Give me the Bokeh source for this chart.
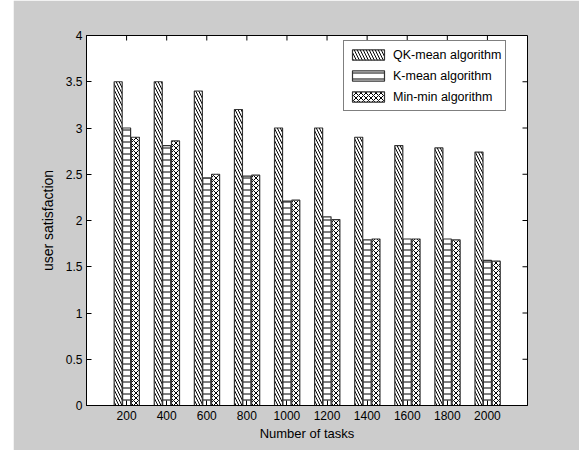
import math
from bokeh.plotting import figure
from bokeh.layouts import row
from bokeh.models import (Range1d, FixedTicker, Legend, LegendItem, Spacer,
                          ColumnDataSource, CustomJSTickFormatter)
from bokeh.transform import dodge
from bokeh.embed import file_html
from bokeh.resources import INLINE

# ---- data ----
tasks = ["200", "400", "600", "800", "1000", "1200", "1400", "1600", "1800", "2000"]
qk_mean = [3.50, 3.50, 3.40, 3.20, 3.00, 3.00, 2.90, 2.81, 2.785, 2.74]
k_mean = [3.00, 2.81, 2.46, 2.48, 2.21, 2.04, 1.79, 1.80, 1.80, 1.57]
min_min = [2.90, 2.86, 2.50, 2.49, 2.22, 2.01, 1.80, 1.80, 1.79, 1.56]
series_names = ["QK-mean algorithm", "K-mean algorithm", "Min-min algorithm"]
y_ticks = [0, 0.5, 1, 1.5, 2, 2.5, 3, 3.5, 4]
x_label = "Number of tasks"
y_label = "user satisfaction"

pos = list(range(1, len(tasks) + 1))
x_max = len(tasks) + 1
y_max = 4
src = ColumnDataSource(data=dict(pos=pos, qk=qk_mean, km=k_mean, mm=min_min))

FONT = "Liberation Sans"
GRAY = "#cccccc"

p = figure(width=566, height=450, output_backend="svg", toolbar_location=None,
           x_range=Range1d(0, x_max), y_range=Range1d(0, y_max),
           min_border_left=73, min_border_right=52, min_border_top=35,
           min_border_bottom=45)
p.border_fill_color = GRAY
p.background_fill_color = "white"
p.outline_line_color = "black"
p.outline_line_width = 1
p.xgrid.visible = False
p.ygrid.visible = False

common = dict(width=0.2, source=src, fill_color="white", line_color="#333333",
              line_width=1.2, hatch_color="black", hatch_weight=1)
r1 = p.vbar(x=dodge("pos", -0.21, range=p.x_range), top="qk",
            hatch_pattern="left_diagonal_line", hatch_scale=6, **common)
r2 = p.vbar(x=dodge("pos", 0.0, range=p.x_range), top="km",
            hatch_pattern="horizontal_line", hatch_scale=6, **common)
r3 = p.vbar(x=dodge("pos", 0.22, range=p.x_range), top="mm",
            hatch_pattern="diagonal_cross", hatch_scale=5, **common)

def style_axis(ax):
    ax.major_tick_in = 5
    ax.major_tick_out = 0
    ax.minor_tick_line_color = None
    ax.axis_line_color = "black"
    ax.major_tick_line_color = "black"
    ax.major_label_text_font = FONT
    ax.major_label_text_color = "black"
    ax.major_label_text_font_size = "12px"

xa = p.xaxis[0]
xa.ticker = FixedTicker(ticks=pos)
xa.major_label_overrides = {i: t for i, t in zip(pos, tasks)}
style_axis(xa)
xa.major_label_standoff = 5
xa.axis_label = x_label
xa.axis_label_text_font = FONT
xa.axis_label_text_font_size = "13px"
xa.axis_label_text_font_style = "normal"
xa.axis_label_text_color = "black"
xa.axis_label_standoff = 3

ya = p.yaxis[0]
ya.ticker = FixedTicker(ticks=y_ticks)
ya.formatter = CustomJSTickFormatter(code="return tick.toString();")
style_axis(ya)
ya.major_label_standoff = 4
ya.axis_label = y_label
ya.axis_label_text_font = FONT
ya.axis_label_text_font_size = "14px"
ya.axis_label_text_font_style = "normal"
ya.axis_label_text_color = "black"
ya.axis_label_standoff = 7

# inward ticks on the right and top edges of the box (MATLAB style)
p.ray(x=[x_max] * len(y_ticks), y=y_ticks, length=5, length_units="screen",
      angle=math.pi, line_color="black", line_width=1)
p.ray(x=pos, y=[y_max] * len(pos), length=5, length_units="screen",
      angle=-math.pi / 2, line_color="black", line_width=1)

legend = Legend(items=[LegendItem(label=series_names[0], renderers=[r1]),
                       LegendItem(label=series_names[1], renderers=[r2]),
                       LegendItem(label=series_names[2], renderers=[r3])],
                location=(257, 294))
legend.label_text_font = FONT
legend.label_text_font_size = "12.5px"
legend.label_text_color = "black"
legend.glyph_width = 40
legend.glyph_height = 13
legend.label_height = 19
legend.label_standoff = 5
legend.spacing = 2
legend.padding = 4
legend.margin = 0
legend.border_line_color = "black"
legend.border_line_width = 1
legend.background_fill_color = "white"
legend.background_fill_alpha = 1
p.add_layout(legend)

layout = row(Spacer(width=13, height=450, background="white"), p)
open("out.html", "w").write(file_html(layout, INLINE))
